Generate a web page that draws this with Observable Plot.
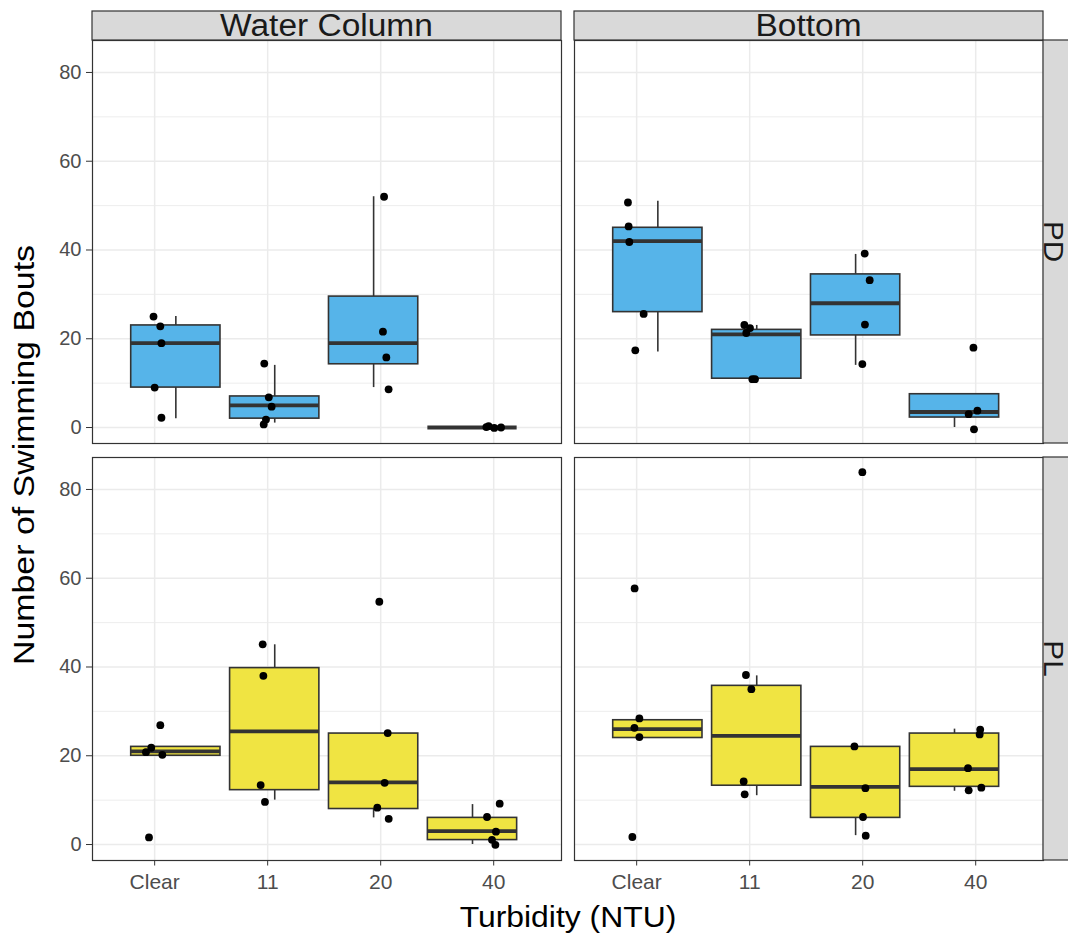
<!DOCTYPE html>
<html>
<head>
<meta charset="utf-8">
<script src="https://cdn.jsdelivr.net/npm/d3@7"></script>
<script src="https://cdn.jsdelivr.net/npm/@observablehq/plot@0.6"></script>
<style>
  html, body { margin: 0; padding: 0; background: #fff; overflow: hidden; }
  #chart svg { display: block; }
</style>
</head>
<body>
<div id="chart"></div>
<script>
// ---------- data ----------
const habitats = ["Water Column", "Bottom"];
const species = ["PD", "PL"];
const turbidity = ["Clear", "11", "20", "40"];
const yTicks = [0, 20, 40, 60, 80];
const yMinor = [10, 30, 50, 70];
const speciesFill = ["#56B4E9", "#F0E442"];

// swimming bouts per turbidity group (as plotted, jittered)
const waterPD = [[25.0, 22.8, 19.0, 9.0, 2.2], [14.4, 6.8, 4.7, 1.8, 0.7], [52.0, 21.6, 15.8, 8.6], [0.1, 0.3, -0.1, 0.0]];
const waterPDJitter = [[-0.01, 0.05, 0.06, 0.0, 0.06], [-0.03, 0.01, 0.035, -0.015, -0.035], [0.03, 0.02, 0.05, 0.07], [-0.065, -0.045, 0.005, 0.065]];

const bottomPD = [[50.7, 45.3, 41.8, 25.6, 17.4], [23.1, 22.4, 21.3, 10.9, 10.9], [39.2, 33.2, 23.2, 14.3], [18.0, 3.8, 3.0, -0.4]];
const bottomPDJitter = [[-0.077, -0.071, -0.065, 0.062, -0.012], [-0.047, 0.003, -0.03, 0.024, 0.047], [0.018, 0.062, 0.02, -0.003], [-0.02, 0.015, -0.062, -0.015]];

const waterPL = [[26.9, 21.8, 20.8, 20.2, 1.6], [45.1, 38.0, 13.4, 9.6], [54.7, 25.1, 13.9, 8.3, 5.8], [9.2, 6.2, 2.9, 1.05, -0.07]];
const waterPLJitter = [[0.05, -0.03, -0.077, 0.068, -0.05], [-0.044, -0.038, -0.062, -0.024], [-0.012, 0.062, 0.035, -0.03, 0.071], [0.053, -0.059, 0.02, -0.015, 0.015]];

const bottomPL = [[57.7, 28.4, 26.3, 24.2, 1.7], [38.2, 35.0, 14.2, 11.3], [83.9, 22.1, 12.7, 6.2, 2.0], [25.9, 24.8, 17.2, 12.8, 12.2]];
const bottomPLJitter = [[-0.018, 0.024, -0.02, 0.024, -0.038], [-0.033, 0.015, -0.053, -0.044], [-0.003, -0.073, 0.024, 0.003, 0.027], [0.04, 0.035, -0.068, 0.05, -0.062]];

// ---------- build tables ----------
const groups = [
  {habitat: "Water Column", species: "PD", values: waterPD, jitter: waterPDJitter},
  {habitat: "Bottom", species: "PD", values: bottomPD, jitter: bottomPDJitter},
  {habitat: "Water Column", species: "PL", values: waterPL, jitter: waterPLJitter},
  {habitat: "Bottom", species: "PL", values: bottomPL, jitter: bottomPLJitter}
];

const points = [];
const boxes = [];
const boxSpread = 0.875, boxHalf = 0.395;
for (const g of groups) {
  g.values.forEach((vals, i) => {
    vals.forEach((v, j) => points.push({habitat: g.habitat, species: g.species, pos: i + 1 + g.jitter[i][j], value: v}));
    const r = vals.map(v => Math.round(v) + 0).sort(d3.ascending);
    const q1 = d3.quantile(r, 0.25), med = d3.quantile(r, 0.5), q3 = d3.quantile(r, 0.75);
    const iqr = q3 - q1;
    const hi = d3.max(r.filter(v => v <= q3 + 1.5 * iqr));
    const lo = d3.min(r.filter(v => v >= q1 - 1.5 * iqr));
    boxes.push({habitat: g.habitat, species: g.species, center: 2.5 + (i + 1 - 2.5) * boxSpread, q1, med, q3, lo, hi});
  });
}

// ---------- plot ----------
const W = 1068, H = 939, mL = 91, mR = 25, mT = 40, mB = 79;
const padX = 0.027, padY = 0.0336;
const ink = "#333333", grid = "#EBEBEB";
const font = "'Liberation Sans', Arial, Helvetica, sans-serif";

const fc = {fx: "habitat", fy: "species"};
const plot = Plot.plot({
  width: W, height: H,
  marginLeft: mL, marginRight: mR, marginTop: mT, marginBottom: mB,
  style: {fontFamily: font, background: "#fff", overflow: "hidden"},
  fx: {domain: habitats, paddingInner: padX, paddingOuter: 0, axis: null, label: null},
  fy: {domain: species, paddingInner: padY, paddingOuter: 0, axis: null, label: null},
  x: {domain: [0.45, 4.6], label: null},
  y: {domain: [-3.6, 87.2], label: null},
  color: {domain: species, range: speciesFill},
  marks: [
    Plot.gridY(yMinor, {stroke: grid, strokeOpacity: 1, strokeWidth: 0.9}),
    Plot.gridY(yTicks, {stroke: grid, strokeOpacity: 1, strokeWidth: 1.5}),
    Plot.gridX([1, 2, 3, 4], {stroke: grid, strokeOpacity: 1, strokeWidth: 1.5}),
    Plot.ruleX(boxes, {...fc, x: "center", y1: "q3", y2: "hi", stroke: ink, strokeWidth: 1.6}),
    Plot.ruleX(boxes, {...fc, x: "center", y1: "lo", y2: "q1", stroke: ink, strokeWidth: 1.6}),
    Plot.rect(boxes, {...fc, x1: d => d.center - boxHalf, x2: d => d.center + boxHalf, y1: "q1", y2: "q3", fill: "species", stroke: ink, strokeWidth: 1.6}),
    Plot.ruleY(boxes, {...fc, x1: d => d.center - boxHalf, x2: d => d.center + boxHalf, y: "med", stroke: ink, strokeWidth: 3.8}),
    Plot.dot(points, {...fc, x: "pos", y: "value", r: 3.9, fill: "#000"}),
    Plot.frame({stroke: ink, strokeWidth: 1.2}),
    Plot.axisY(yTicks, {anchor: "left", tickSize: 6, tickPadding: 5, fontSize: 20, fill: "#4D4D4D", stroke: ink, label: null}),
    Plot.axisX([1, 2, 3, 4], {anchor: "bottom", tickFormat: i => turbidity[i - 1], tickSize: 5.5, tickPadding: 8.5, fontSize: 21, fill: "#4D4D4D", stroke: ink, label: null})
  ]
});
document.getElementById("chart").appendChild(plot);

// ---------- strips and axis titles ----------
const svg = d3.select(plot);
function band(name, values, start, total, pad) {
  let sc = null;
  try { sc = plot.scale(name); } catch (e) {}
  const step = total / (values.length - pad);
  const bw = sc && sc.bandwidth ? sc.bandwidth : step * (1 - pad);
  return values.map((v, i) => ({v, x0: sc && sc.apply ? sc.apply(v) : start + i * step, bw}));
}
function stretch(sel, factor) {
  sel.each(function () {
    const len = this.getComputedTextLength();
    this.setAttribute("textLength", len * factor);
    this.setAttribute("lengthAdjust", "spacingAndGlyphs");
  });
}
const colBands = band("fx", habitats, mL, W - mL - mR, padX);
const rowBands = band("fy", species, mT, H - mT - mB, padY);

const stripG = svg.append("g").attr("font-family", font);
for (const b of colBands) {
  stripG.append("rect").attr("x", b.x0).attr("y", 11).attr("width", b.bw).attr("height", mT - 11)
    .attr("fill", "#D9D9D9").attr("stroke", ink).attr("stroke-width", 1.2);
  stripG.append("text").attr("x", b.x0 + b.bw / 2).attr("y", 35.5).attr("text-anchor", "middle")
    .attr("font-size", 31).attr("fill", "#1A1A1A").text(b.v).call(stretch, 1.08);
}
for (const b of rowBands) {
  stripG.append("rect").attr("x", W - mR).attr("y", b.x0).attr("width", mR + 2).attr("height", b.bw)
    .attr("fill", "#D9D9D9").attr("stroke", ink).attr("stroke-width", 1.2);
  stripG.append("text").attr("transform", `translate(${W - mR + 0.5},${b.x0 + b.bw / 2}) rotate(90)`)
    .attr("text-anchor", "middle").attr("font-size", 27).attr("fill", "#1A1A1A").text(b.v).call(stretch, 1.1);
}
stripG.append("text").attr("x", (mL + W - mR) / 2 + 1).attr("y", 927).attr("text-anchor", "middle")
  .attr("font-size", 29.5).attr("fill", "#000").text("Turbidity (NTU)").call(stretch, 1.08);
stripG.append("text").attr("transform", `translate(34,455) rotate(-90)`).attr("text-anchor", "middle")
  .attr("font-size", 30).attr("fill", "#000").text("Number of Swimming Bouts").call(stretch, 1.13);
</script>
</body>
</html>
